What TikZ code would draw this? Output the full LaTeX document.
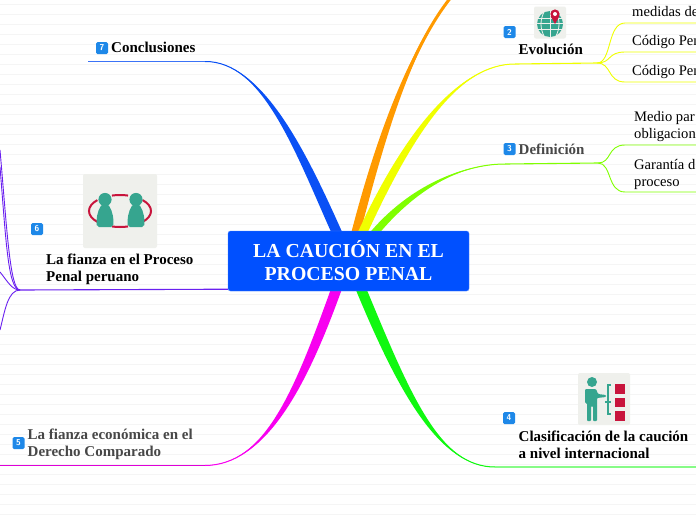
\documentclass[tikz,border=0pt]{standalone}
\usepackage{fontspec}
\setmainfont{Liberation Serif}
\usepackage{xcolor}
\usetikzlibrary{positioning,backgrounds,calc}

\definecolor{rootblue}{HTML}{0050FF}
\definecolor{armblue}{HTML}{0A50F5}
\definecolor{armorange}{HTML}{FF9A00}
\definecolor{armyellow}{HTML}{F0FF00}
\definecolor{armlime}{HTML}{80FF00}
\definecolor{armgreen}{HTML}{10F810}
\definecolor{armpink}{HTML}{F800F0}
\definecolor{armviolet}{HTML}{6A20F0}
\definecolor{iconback}{HTML}{EFF0EC}
\definecolor{iconteal}{HTML}{36A58F}
\definecolor{iconred}{HTML}{C8143C}
\definecolor{badgeblue}{HTML}{1E88E8}
\definecolor{ruleline}{HTML}{F5F5F5}

% arm of the map: colour, thin end, two controls, thick end, half width
\newcommand{\mmarm}[6]{%
  \fill[#1] (#2) .. controls #3 and ($#4+(#6,0)$) .. ($(#5)+(#6,0)$)
    -- ($(#5)-(#6,0)$) .. controls ($#4-(#6,0)$) and #3 .. (#2);
  \draw[#1,line width=1pt] (#2) .. controls #3 and #4 .. (#5);
}

\tikzset{
  rootbox/.style={fill=rootblue,draw=rootblue!70!white,line width=0.4pt,rounded corners=2.5pt,
    minimum width=241pt,minimum height=60pt,text=white,align=center,inner sep=0pt,
    font=\fontsize{19.8}{23}\selectfont\bfseries},
  toplabel/.style={anchor=west,align=left,inner sep=0pt,
    font=\fontsize{15}{17.5}\selectfont\bfseries},
  greylabel/.style={toplabel,text=black!72},
  leaflabel/.style={anchor=west,align=left,inner sep=0pt,
    font=\fontsize{14.6}{17}\selectfont},
  badge/.style={fill=badgeblue,rounded corners=1.5pt,minimum size=12pt,inner sep=0pt,
    text=white,font=\sffamily\bfseries\fontsize{8.5}{9}\selectfont},
  iconbox/.style={fill=iconback,rounded corners=2pt,inner sep=0pt},
  twig/.style={line width=0.9pt}
}

\begin{document}
\begin{tikzpicture}[x=1pt,y=-1pt]
\useasboundingbox (0,0) rectangle (696,520);

% Central topic
\node[rootbox] (root) at (348.5,261) {LA CAUCIÓN EN EL\\PROCESO PENAL};

% Icons behind the labels
\node[iconbox,minimum size=32pt] (iconglobe) at (550,22.5) {};
\node[iconbox,minimum size=74pt] (iconpeople) at (120,211) {};
\node[iconbox,minimum size=52pt] (iconchart) at (604,399) {};

% Globe with pin
\fill[iconteal] (550,24) circle (13);
\foreach \y in {18,23.5,29.5} {
  \draw[iconback,line width=0.8pt] (537,\y) -- (563,\y);
}
\draw[iconback,line width=0.8pt] (550,11) -- (550,37);
\draw[iconback,line width=0.8pt] (544,12) .. controls (540,20) and (540,28) .. (544,36);
\draw[iconback,line width=0.8pt] (556,12) .. controls (560,20) and (560,28) .. (556,36);
\fill[iconred] (555,14) circle (4.6);
\fill[iconred] (550.6,16) -- (555,24) -- (559.4,16) -- cycle;
\fill[white] (555,14) circle (2);

% Two people in a ring
\foreach \a/\b in {75/105,255/285,137/223,-43/43} {
  \draw[iconred,line width=2pt] (120,211) ++(\a:31 and 16) arc[start angle=\a,end angle=\b,x radius=31,y radius=16];
}
\foreach \x in {105,136} {
  \fill[iconteal] (\x,199.5) circle (6.6);
  \fill[iconteal,rounded corners=2pt] (\x-3,204) .. controls (\x-8,212) and (\x-9,220) .. (\x-8,227)
    -- (\x+8,227) .. controls (\x+9,220) and (\x+8,212) .. (\x+3,204) -- cycle;
}

% Presenter and red boxes
\fill[iconteal] (592,382) circle (5);
\fill[iconteal,rounded corners=1pt] (585,389) -- (596,389) -- (598,394) -- (606,395) -- (606,397)
  -- (597,398) -- (597,421) -- (593,421) -- (593,406) -- (591,406) -- (591,421) -- (587,421)
  -- (587,403) -- (585,403) -- cycle;
\draw[iconteal,line width=1.2pt] (611,385) -- (608,385) -- (608,414) -- (611,414)
  (605,402) -- (611,402);
\foreach \y in {384,397.5,411} {
  \fill[iconred] (615,\y) rectangle ++(10,9.5);
}

% Badges
\node[badge] (badge2) at (509.5,32) {2};
\node[badge] (badge3) at (509.5,149) {3};
\node[badge] (badge4) at (509,418) {4};
\node[badge] (badge5) at (18.5,443) {5};
\node[badge] (badge6) at (37,229) {6};
\node[badge] (badge7) at (102,48) {7};

% Main labels
\node[toplabel] (conclu) at (111,47) {Conclusiones};
\node[toplabel] (evolu) at (518.5,49) {Evolución};
\node[greylabel] (defin) at (518.5,149) {Definición};
\node[toplabel] (clasif) at (518.5,445) {Clasificación de la caución\\a nivel internacional};
\node[greylabel] (fianzaeco) at (27.5,444.5) {La fianza económica en el\\Derecho Comparado};
\node[toplabel] (fianzaper) at (46,269.5) {La fianza en el Proceso\\Penal peruano};

% Leaves, cut by the edge of the page
\begin{scope}
\clip (0,0) rectangle (696,520);
\node[leaflabel] (leafa) at (632,11.5) {medidas de};
\node[leaflabel] (leafb) at (632,41.5) {Código Pen};
\node[leaflabel] (leafc) at (632,72) {Código Pen};
\node[leaflabel] (leafd) at (634,126.5) {Medio par\\obligacion};
\node[leaflabel] (leafe) at (634,174.5) {Garantía d\\proceso};
\end{scope}

% Everything below lies behind the nodes
\begin{scope}[on background layer]
\clip (0,0) rectangle (696,520);
\fill[white] (0,0) rectangle (696,520);
\foreach \y in {0,1,...,51} {
  \draw[ruleline,line width=0.6pt] (0,4+10*\y) -- (696,4+10*\y);
}

% Points on the arms
\coordinate (blueend) at (88,61.5);
\coordinate (bluebend) at (205,61.5);
\coordinate (orangetip) at (472,-25);
\coordinate (yellowbend) at (515,64);
\coordinate (yellowfork) at (597,63);
\coordinate (limebend) at (505,164);
\coordinate (limefork) at (598,163);
\coordinate (greenbend) at (495,467);
\coordinate (greenend) at (696,467);
\coordinate (pinkbend) at (205,465.5);
\coordinate (pinkend) at (0,465.5);
\coordinate (violetfork) at (20,290);

% Thick arms out of the central topic
\mmarm{armblue}{bluebend}{(262,61)}{(300,150)}{$(root.north)+(-12,1)$}{5.5}
\mmarm{armorange}{orangetip}{(420,20)}{(385,120)}{$(root.north)+(7.5,1)$}{4.5}
\mmarm{armyellow}{yellowbend}{(460,64)}{(410,130)}{$(root.north)+(14.5,1)$}{5}
\mmarm{armlime}{limebend}{(470,164)}{(420,180)}{$(root.north)+(27,1)$}{5}
\mmarm{armgreen}{greenbend}{(440,467)}{(405,395)}{$(root.south)+(13,-1)$}{5.5}
\mmarm{armpink}{pinkbend}{(265,465)}{(300,390)}{$(root.south)+(-12.5,-1)$}{5.5}
\draw[armorange,line width=3pt] (orangetip) .. controls (420,20) and (385,120) .. ($(root.north)+(7.5,1)$);

% Thin parts of the arms
\draw[armblue!80!white,line width=1pt] (blueend) -- (bluebend);
\draw[armgreen!50!white,line width=1.6pt] (greenbend) -- (greenend);
\draw[armpink!90!black,line width=1pt] (pinkend) -- (pinkbend);
\draw[armyellow,line width=1.1pt] (yellowbend) -- (yellowfork);
\draw[armlime,line width=1.1pt] (limebend) -- (limefork);
\draw[armviolet,line width=1.1pt] (violetfork) -- ($(root.south west)+(0,-2)$);

% Twigs
\foreach \y in {23,52,82} {
  \draw[armyellow,twig] (yellowfork) .. controls (612,63) and (607,\y) .. (625,\y) -- (696,\y);
}
\foreach \y in {145,192} {
  \draw[armlime,twig] (limefork) .. controls (612,163) and (607,\y) .. (625,\y) -- (696,\y);
}
\draw[armviolet,twig] (violetfork) .. controls (8,290) and (6,240) .. (0,167);
\draw[armviolet,twig] (violetfork) .. controls (10,290) and (7,230) .. (0,150);
\draw[armviolet,twig] (violetfork) .. controls (12,290) and (8,282) .. (0,272);
\draw[armviolet,twig] (violetfork) .. controls (8,290) and (5,310) .. (0,330);
\end{scope}
\end{tikzpicture}
\end{document}
